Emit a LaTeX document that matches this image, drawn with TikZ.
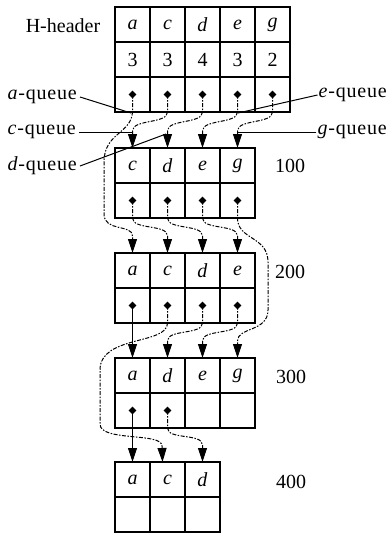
\documentclass[tikz,border=0pt]{standalone}
\usepackage{fontspec}
\setmainfont{Liberation Serif}
\usetikzlibrary{arrows.meta,shapes.geometric}
\begin{document}
\begin{tikzpicture}[x=1pt,y=-1pt,
 cell/.style={draw,line width=1.1pt,minimum width=35pt,minimum height=35pt,inner sep=0pt,outer sep=0pt,font=\fontsize{20}{23}\selectfont},
 lbl/.style={inner sep=0pt,font=\fontsize{20}{23}\selectfont},
 qlbl/.style={inner sep=0pt,font=\fontsize{20}{23}\selectfont\addfontfeatures{LetterSpace=4}},
 ptr/.style={line width=1pt,dash pattern=on 4pt off 1.5pt on 1.5pt off 1.5pt,-{Triangle[width=9pt,length=14pt]}},
 sptr/.style={line width=1pt,-{Triangle[width=9pt,length=14pt]}},
 qline/.style={line width=1pt},
 dotm/.style={diamond,fill,inner sep=0pt,minimum size=8pt,draw=none}]
\useasboundingbox (0,0) rectangle (390,533);
% header
\foreach \t [count=\i] in {a,c,d,e,g}{
  \node[cell] (H1-\i) at ({97.5+35*\i},24.5) {\textit{\t}};
}
\foreach \t [count=\i] in {3,3,4,3,2}{
  \node[cell] (H2-\i) at ({97.5+35*\i},59.5) {\t};
}
\foreach \i in {1,...,5}{
  \node[cell] (H3-\i) at ({97.5+35*\i},94.5) {};
  \node[dotm] (Hd\i) at (H3-\i.center) {};
}
% table 100
\foreach \t [count=\i] in {c,d,e,g}{
  \node[cell] (A1-\i) at ({97.5+35*\i},165.5) {\textit{\t}};
  \node[cell] (A2-\i) at ({97.5+35*\i},200.5) {};
  \node[dotm] (Ad\i) at (A2-\i.center) {};
}
% table 200
\foreach \t [count=\i] in {a,c,d,e}{
  \node[cell] (B1-\i) at ({97.5+35*\i},270.5) {\textit{\t}};
  \node[cell] (B2-\i) at ({97.5+35*\i},305.5) {};
  \node[dotm] (Bd\i) at (B2-\i.center) {};
}
% table 300
\foreach \t [count=\i] in {a,d,e,g}{
  \node[cell] (C1-\i) at ({97.5+35*\i},375.5) {\textit{\t}};
  \node[cell] (C2-\i) at ({97.5+35*\i},410.5) {};
}
\node[dotm] (Cd1) at (C2-1.center) {};
\node[dotm] (Cd2) at (C2-2.center) {};
% table 400
\foreach \t [count=\i] in {a,c,d}{
  \node[cell] (D1-\i) at ({97.5+35*\i},479.5) {\textit{\t}};
  \node[cell] (D2-\i) at ({97.5+35*\i},514.5) {};
}
% labels
\node[lbl] (hh) at (63,26) {H-header};
\node[lbl] (n100) at (290,166) {100};
\node[lbl] (n200) at (290,272) {200};
\node[lbl] (n300) at (291,377) {300};
\node[lbl] (n400) at (291,482) {400};
\node[qlbl,anchor=east] (aq) at (77,97) {\textit{a}-queue};
\node[qlbl,anchor=east] (cq) at (76,132) {\textit{c}-queue};
\node[qlbl,anchor=east] (dq) at (77,166) {\textit{d}-queue};
\node[qlbl,anchor=east] (eq) at (387,95) {\textit{e}-queue};
\node[qlbl,anchor=east] (gq) at (387,132) {\textit{g}-queue};
\coordinate (aqE) at (131,113);
\coordinate (cqE) at (132.5,132);
\coordinate (dqE) at (166,134);
\coordinate (eqE) at (238,113);
\coordinate (gqE) at (237.5,132);
\draw[qline] ([xshift=3pt]aq.east) -- (aqE);
\draw[qline] ([xshift=3pt]cq.east) -- (cqE);
\draw[qline] ([xshift=3pt]dq.east) -- (dqE);
\draw[qline] ([xshift=-1pt]eq.west) -- (eqE);
\draw[qline] ([xshift=-1pt]gq.west) -- (gqE);
% header -> 100
\foreach \s/\t in {2/1,3/2,4/3,5/4}{
  \draw[ptr] (Hd\s.center) -- ++(0,17.5) .. controls +(0,12) and +(0,-12) .. ([yshift=17pt]A1-\t.north) -- (A1-\t.north);
}
% header a -> 200 a
\draw[ptr] (Hd1.center) -- ++(0,16) .. controls (132.5,134) and (104,132) .. (104,162) -- (104,214) .. controls (104,232) and (132.5,224) .. (132.5,236) -- (B1-1.north);
% 100 -> 200
\foreach \s/\t in {1/2,2/3,3/4}{
  \draw[ptr] (Ad\s.center) -- ++(0,17.5) .. controls +(0,12) and +(0,-12) .. ([yshift=17pt]B1-\t.north) -- (B1-\t.north);
}
% 100 g -> 300 g
\draw[ptr] (Ad4.center) -- ++(0,17.5) .. controls (237.5,240) and (268,236) .. (268,262) -- (268,310) .. controls (268,332) and (237.5,327) .. (237.5,341) -- (C1-4.north);
% 200 -> 300
\draw[sptr] (Bd1.center) -- (C1-1.north);
\foreach \s/\t in {3/2,4/3}{
  \draw[ptr] (Bd\s.center) -- ++(0,17.5) .. controls +(0,12) and +(0,-12) .. ([yshift=17pt]C1-\t.north) -- (C1-\t.north);
}
% 200 c -> 400 c
\draw[ptr] (Bd2.center) -- ++(0,17.5) .. controls (167.5,345) and (100,335) .. (100,370) -- (100,424) .. controls (100,442) and (162,432) .. (162,446) -- ([xshift=-5pt]D1-2.north);
% 300 -> 400
\draw[sptr] (Cd1.center) -- (D1-1.north);
\draw[ptr] (Cd2.center) -- ++(0,17.5) .. controls +(0,12) and +(0,-12) .. ([yshift=17pt]D1-3.north) -- (D1-3.north);
\end{tikzpicture}
\end{document}
